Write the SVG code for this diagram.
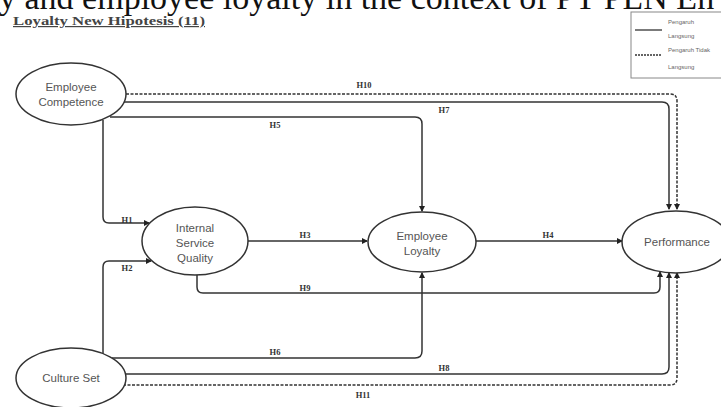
<svg xmlns="http://www.w3.org/2000/svg" width="721" height="407" viewBox="0 0 721 407">
<style>
.node ellipse{fill:#fff;stroke:#333;stroke-width:1.5}
.node text{font-family:"Liberation Sans",Arial,sans-serif;font-size:11.5px;fill:#555;text-anchor:middle}
.c path{fill:none;stroke:#333;stroke-width:1.5}
.c path.d{stroke-dasharray:3,1.5}
.lbl{font-family:"Liberation Serif","Times New Roman",serif;font-weight:bold;font-size:8.5px;fill:#333;text-anchor:middle}
.leg{font-family:"Liberation Sans",Arial,sans-serif;font-size:6px;fill:#666}
</style>
<defs>
<marker id="ah" markerWidth="6" markerHeight="6" refX="5" refY="3" orient="auto" markerUnits="userSpaceOnUse">
<path d="M0,0 L6,3 L0,6 Z" fill="#222"/>
</marker>
</defs>
<rect width="721" height="407" fill="#fff"/>
<text x="-1" y="9" font-family="Liberation Serif,'Times New Roman',serif" font-size="34" fill="#111">y and employee loyalty in the context of PT PLN En</text>
<text x="13" y="25" font-family="Liberation Serif,'Times New Roman',serif" font-size="12" font-weight="bold" fill="#444" text-decoration="underline" textLength="192" lengthAdjust="spacingAndGlyphs">Loyalty New Hipotesis (11)</text>
<g id="legend">
<rect x="631" y="12" width="95" height="66" fill="#fff" stroke="#888" stroke-width="1"/>
<line x1="635" y1="30" x2="662" y2="30" stroke="#333" stroke-width="1.3"/>
<line x1="635" y1="55" x2="662" y2="55" stroke="#333" stroke-width="1.3" stroke-dasharray="2,1"/>
<text class="leg" x="668" y="24">Pengaruh</text>
<text class="leg" x="668" y="38">Langsung</text>
<text class="leg" x="668" y="52">Pengaruh Tidak</text>
<text class="leg" x="668" y="69">Langsung</text>
</g>
<g class="c" id="connectors">
<path class="d" d="M126,94 H670 Q677,94 677,101 V209" marker-end="url(#ah)"/>
<path d="M124,102 H662 Q669,102 669,109 V209" marker-end="url(#ah)"/>
<path d="M110,117 H415 Q422,117 422,124 V211" marker-end="url(#ah)"/>
<path d="M103,120 V217 Q103,223 109,223 H149" marker-end="url(#ah)"/>
<path d="M103,354 V267 Q103,261 109,261 H151" marker-end="url(#ah)"/>
<path d="M248,241 H367" marker-end="url(#ah)"/>
<path d="M476,241 H622" marker-end="url(#ah)"/>
<path d="M197,275 V287 Q197,293 203,293 H654 Q660,293 660,287 V272" marker-end="url(#ah)"/>
<path d="M112,358 H415 Q422,358 422,351 V273" marker-end="url(#ah)"/>
<path d="M125,374 H662 Q669,374 669,367 V273" marker-end="url(#ah)"/>
<path class="d" d="M123,385 H670 Q677,385 677,378 V273" marker-end="url(#ah)"/>
<text class="lbl" x="364" y="88">H10</text>
<text class="lbl" x="444" y="113">H7</text>
<text class="lbl" x="275" y="128">H5</text>
<text class="lbl" x="127" y="223">H1</text>
<text class="lbl" x="127" y="271">H2</text>
<text class="lbl" x="305" y="238">H3</text>
<text class="lbl" x="548" y="238">H4</text>
<text class="lbl" x="305" y="291">H9</text>
<text class="lbl" x="275" y="355">H6</text>
<text class="lbl" x="444" y="371">H8</text>
<text class="lbl" x="363" y="398">H11</text>
</g>
<g class="node" id="employee-competence">
<ellipse cx="71" cy="94" rx="55" ry="31"/>
<text x="71" y="91">Employee</text>
<text x="71" y="106">Competence</text>
</g>
<g class="node" id="internal-service-quality">
<ellipse cx="195" cy="241" rx="53" ry="34"/>
<text x="195" y="232">Internal</text>
<text x="195" y="247">Service</text>
<text x="195" y="262">Quality</text>
</g>
<g class="node" id="employee-loyalty">
<ellipse cx="422" cy="242" rx="54" ry="30"/>
<text x="422" y="240">Employee</text>
<text x="422" y="255">Loyalty</text>
</g>
<g class="node" id="performance">
<ellipse cx="676" cy="242" rx="54" ry="31"/>
<text x="677" y="246">Performance</text>
</g>
<g class="node" id="culture-set">
<ellipse cx="71" cy="378" rx="55" ry="30"/>
<text x="71" y="382">Culture Set</text>
</g>
</svg>
